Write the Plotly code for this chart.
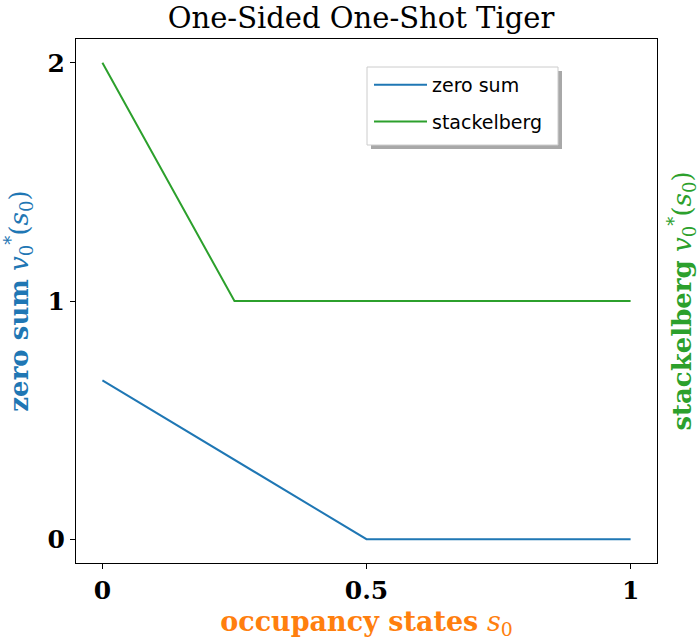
import plotly.graph_objects as go

# data
x_zero_sum = [0, 0.5, 1]
y_zero_sum = [0.6667, 0, 0]
x_stackelberg = [0, 0.25, 1]
y_stackelberg = [2, 1, 1]
x_ticks = [0, 0.5, 1]
x_tick_labels = ["0", "0.5", "1"]
y_ticks = [0, 1, 2]
y_tick_labels = ["0", "1", "2"]

BLUE = "#1f77b4"
GREEN = "#2ca02c"
ORANGE = "#ff7f0e"
SERIF = "DejaVu Serif"

L, R, T, B = 76, 657, 39, 563
W, H = 700, 641
PW, PH = R - L, B - T


def px(x):
    return (x - L) / PW


def py(y):
    return (B - y) / PH


fig = go.Figure()
fig.add_trace(go.Scatter(x=x_zero_sum, y=y_zero_sum, mode="lines", name="zero sum",
                         legendgroup="a", line=dict(color=BLUE, width=2)))
fig.add_trace(go.Scatter(x=x_stackelberg, y=y_stackelberg, mode="lines", name="stackelberg",
                         legendgroup="b", line=dict(color=GREEN, width=2)))
fig.add_trace(go.Scatter(x=[None], y=[None], yaxis="y2", showlegend=False, hoverinfo="skip"))

fig.update_layout(
    width=W, height=H,
    margin=dict(l=L, r=W - R, t=T, b=H - B, autoexpand=False),
    plot_bgcolor="white", paper_bgcolor="white",
    title=dict(text="One-Sided One-Shot Tiger", x=361 / W, xanchor="center",
               y=1 - 18 / H, yanchor="middle",
               font=dict(family=SERIF, size=29, color="black")),
    xaxis=dict(range=[-0.05, 1.05], tickvals=x_ticks,
               ticktext=["<b>%s</b>" % t for t in x_tick_labels],
               ticks="outside", ticklen=5, tickcolor="black", automargin=False,
               showline=True, linecolor="black", linewidth=1.3, mirror=True,
               showgrid=False, zeroline=False,
               tickfont=dict(family=SERIF, size=25, color="black"),
               title=dict(text="<b>occupancy states</b> <i>s</i><sub>0</sub>",
                          font=dict(family=SERIF, size=27, color=ORANGE), standoff=7)),
    yaxis=dict(range=[-0.1, 2.1], tickvals=y_ticks,
               ticktext=["<b>%s</b>" % t for t in y_tick_labels],
               ticks="outside", ticklen=5, tickcolor="black", automargin=False,
               showline=True, linecolor="black", linewidth=1.3, mirror=True,
               showgrid=False, zeroline=False,
               tickfont=dict(family=SERIF, size=25, color="black"),
               title=dict(text="<b>zero sum</b> <i>v</i><sub>0</sub><sup>*</sup>(<i>s</i><sub>0</sub>)",
                          font=dict(family=SERIF, size=26, color=BLUE), standoff=12)),
    yaxis2=dict(range=[-0.1, 2.1], overlaying="y", side="right", showticklabels=False,
                showgrid=False, zeroline=False, ticks="", automargin=False,
                title=dict(text="<b>stackelberg</b> <i>v</i><sub>0</sub><sup>*</sup>(<i>s</i><sub>0</sub>)",
                           font=dict(family=SERIF, size=26, color=GREEN), standoff=18)),
    showlegend=True,
    legend=dict(x=px(369), y=py(66), xanchor="left", yanchor="top",
                bgcolor="rgba(0,0,0,0)", borderwidth=0,
                font=dict(family="DejaVu Sans", size=19, color="black"),
                itemwidth=53, tracegroupgap=9),
)

# legend frame and shadow (matplotlib-style fancy box)
fig.add_shape(type="rect", xref="paper", yref="paper",
              x0=px(371), x1=px(562), y0=py(149), y1=py(71),
              fillcolor="#a8a8a8", line=dict(width=0), layer="above")
fig.add_shape(type="rect", xref="paper", yref="paper",
              x0=px(367), x1=px(558), y0=py(145), y1=py(67),
              fillcolor="white", line=dict(color="#cccccc", width=1), layer="above")

fig.write_html("out.html", config={"displayModeBar": False},
               post_script="document.body.style.margin='0';document.body.style.padding='0';")
